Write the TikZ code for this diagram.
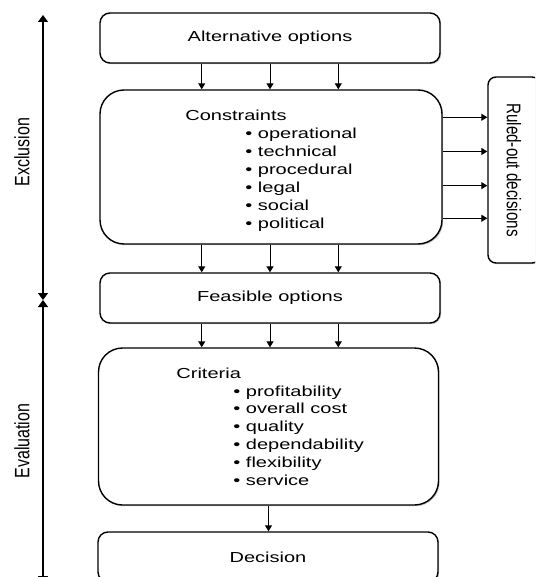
\documentclass[tikz,border=0pt]{standalone}
\usepackage{fontspec}
\setmainfont{Liberation Sans}[FakeStretch=1.38]
\newfontfamily\sidefont{Liberation Sans}
\usetikzlibrary{arrows.meta,calc,shadows}
\begin{document}
\begin{tikzpicture}[x=0.5pt,y=-0.5pt,
  font=\fontsize{7.25}{9}\selectfont,
  optbox/.style={draw,line width=0.7pt,rounded corners=5pt,fill=white,
    drop shadow={shadow xshift=0.6pt,shadow yshift=-0.6pt,fill=black!45},
    minimum width=170pt,minimum height=25pt},
  listbox/.style={optbox,rounded corners=12pt},
  listitem/.style={anchor=base west,inner sep=0pt},
  flow/.style={-{Triangle[length=3pt,width=3.5pt]},line width=0.5pt},
  phase/.style={{Triangle[length=3.5pt,width=5pt]}-{Triangle[length=3.5pt,width=5pt]},line width=0.6pt},
  phaselabel/.style={font=\sidefont\fontsize{8}{9}\selectfont,rotate=90,yscale=1.3}]
\useasboundingbox (0,0) rectangle (535,577);
\clip (0,0) rectangle (535,577);
% boxes
\node[optbox] (alt) at (270,38) {Alternative options};
\node[listbox,minimum width=171pt,minimum height=77pt] (constr) at (271,167) {};
\node[optbox] (feas) at (270,298) {Feasible options};
\node[listbox,minimum height=78.5pt] (crit) at (268.5,426.5) {};
\node[optbox] (dec) at (268,557) {Decision};
\node[optbox,rounded corners=4pt,minimum width=26pt,minimum height=93pt] (ruled) at (514,170)
  {\scalebox{1.3}[1]{\rotatebox{-90}{\sidefont\fontsize{7.6}{9}\selectfont Ruled-out decisions}}};
% lists
\node[listitem] (constrtitle) at (185,120.5) {Constraints};
\foreach \txt [count=\i] in {operational,technical,procedural,legal,social,political}
  \node[listitem] (constr\i) at (245,{139+17.9*(\i-1)}) {\textbullet\ \txt};
\node[listitem] (crittitle) at (176,378.3) {Criteria};
\foreach \txt [count=\i] in {profitability,overall cost,quality,dependability,flexibility,service}
  \node[listitem] (crit\i) at (233,{396+17.9*(\i-1)}) {\textbullet\ \txt};
% arrows between boxes
\foreach \f [count=\k] in {0.3,0.5,0.7}{
  \coordinate (top\k) at ($(alt.south west)!\f!(alt.south east)$);
  \draw[flow] (top\k) -- (top\k |- constr.north);
  \draw[flow] (top\k |- constr.south) -- (top\k |- feas.north);
  \draw[flow] (top\k |- feas.south) -- (top\k |- crit.north);
}
\draw[flow] (crit.south) -- (crit.south |- dec.north);
\foreach \f [count=\k] in {0.18,0.4,0.62,0.83}{
  \coordinate (out\k) at ($(constr.north east)!\f!(constr.south east)$);
  \draw[flow] (out\k) -- (out\k -| ruled.west);
}
% phases
\coordinate (exTop) at (43,15);
\coordinate (phaseSplit) at (43,300);
\coordinate (evBot) at (43,583);
\draw[phase] (exTop) -- (phaseSplit);
\draw[phase] (phaseSplit) -- (evBot);
\node[phaselabel] (exlabel) at (22,152) {Exclusion};
\node[phaselabel] (evlabel) at (22,441) {Evaluation};
\end{tikzpicture}
\end{document}
